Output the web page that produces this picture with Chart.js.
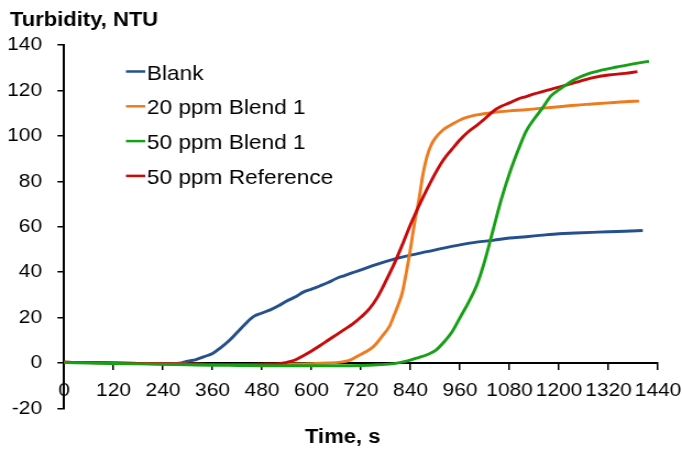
<!DOCTYPE html>
<html>
<head>
<meta charset="utf-8">
<script src="https://cdn.jsdelivr.net/npm/chart.js@4.4.0/dist/chart.umd.min.js"></script>
<style>
  html, body { margin: 0; padding: 0; background: #fff; }
  #c { display: block; width: 682px; height: 450px; }
</style>
</head>
<body>
<canvas id="c" width="620" height="450" style="width:682px;height:450px"></canvas>
<script>
// Turbidity development over time for each test solution
const blankTime = [0,60,120,180,240,270,285,300,320,340,360,380,400,420,440,460,480,500,520,540,560,580,600,620,640,660,680,700,720,760,800,840,880,920,960,1000,1040,1080,1120,1160,1200,1240,1280,1320,1360,1403];
const blankNtu  = [0.3,0.2,0,-0.2,-0.3,-0.2,0,0.8,1.5,2.8,4.2,6.8,9.8,13.5,17.3,20.5,22,23.4,25.2,27.3,29,31.2,32.5,33.9,35.4,37.2,38.5,39.8,41,43.5,45.7,47.5,49,50.6,52,53.2,54,55,55.6,56.3,56.9,57.2,57.5,57.8,58,58.3];

const blend20Time = [0,60,120,180,240,300,360,420,480,540,600,640,670,690,710,730,750,770,790,800,810,820,830,840,850,860,870,880,890,900,920,940,960,980,1000,1040,1080,1120,1160,1200,1240,1280,1320,1360,1394];
const blend20Ntu  = [0.3,0.2,0,-0.2,-0.4,-0.5,-0.6,-0.6,-0.6,-0.5,-0.3,0,0.4,1,2.8,4.8,7.2,11.5,16.5,21,25.5,31,40,50.5,62,71.5,83,91,96,99,102.8,105,107,108.3,109.2,110.3,111,111.5,112.2,112.8,113.5,114,114.5,115,115.3];

const blend50Time = [0,60,120,180,240,300,360,420,480,540,600,660,720,760,800,830,860,880,900,920,940,960,980,1000,1020,1040,1060,1080,1100,1120,1140,1160,1180,1200,1220,1240,1270,1300,1340,1380,1418];
const blend50Ntu  = [0.2,0,-0.2,-0.4,-0.6,-0.8,-1,-1.1,-1.2,-1.2,-1.2,-1.2,-1.1,-0.8,-0.3,0.8,2.4,3.6,5.4,9,13.5,20,26.5,34,45,58.5,72,83.5,93.3,102,107.5,112.3,117.5,120.3,122.8,125,127.3,128.8,130.3,131.7,132.8];

const refTime = [0,60,120,180,240,300,360,420,480,520,540,560,580,600,620,640,660,680,700,720,740,760,780,800,820,840,860,880,900,920,940,960,980,1000,1020,1040,1060,1080,1100,1120,1140,1160,1180,1200,1240,1280,1320,1360,1390];
const refNtu  = [0.3,0.2,0,-0.2,-0.4,-0.5,-0.6,-0.6,-0.5,-0.3,0.3,1.3,3.2,5.3,7.6,10,12.4,14.8,17.2,20.2,23.8,29,36,43.5,52,61,69,76.5,83.5,89.5,94,98.3,101.8,104.5,107.5,110.8,113,114.5,116.2,117.3,118.5,119.5,120.5,121.5,123.5,125.5,126.8,127.5,128.3];

const seriesNames = ['Blank', '20 ppm Blend 1', '50 ppm Blend 1', '50 ppm Reference'];
const seriesColors = ['#24508C', '#EE7B1E', '#17A017', '#C80A0A'];

const xTicks = [0,120,240,360,480,600,720,840,960,1080,1200,1320,1440];
const yTicks = [-20,0,20,40,60,80,100,120,140];

const yTitle = 'Turbidity, NTU';
const xTitle = 'Time, s';

const FONT = "'Liberation Sans', Arial, Helvetica, sans-serif";

function pairs(ts, vs) { return ts.map((t, i) => ({ x: t, y: vs[i] })); }

const seriesData = [
  pairs(blankTime, blankNtu),
  pairs(blend20Time, blend20Ntu),
  pairs(blend50Time, blend50Ntu),
  pairs(refTime, refNtu)
];

// Titles and the in-plot legend
const annotations = {
  id: 'annotations',
  afterDraw(chart) {
    const ctx = chart.ctx;
    ctx.save();
    ctx.fillStyle = '#000';
    ctx.textBaseline = 'alphabetic';
    ctx.textAlign = 'left';
    ctx.font = `bold 20px ${FONT}`;
    ctx.fillText(yTitle, 9, 26);
    ctx.textAlign = 'center';
    ctx.fillText(xTitle, 311.5, 443);

    ctx.font = `20.6px ${FONT}`;
    ctx.textAlign = 'left';
    chart.data.datasets.forEach((ds, i) => {
      const base = 79.5 + i * 34.8;
      ctx.strokeStyle = ds.borderColor;
      ctx.lineWidth = 2.5;
      ctx.beginPath();
      ctx.moveTo(114.5, base - 8);
      ctx.lineTo(132, base - 8);
      ctx.stroke();
      ctx.fillText(ds.label, 133.5, base);
    });
    ctx.restore();
  }
};

new Chart(document.getElementById('c'), {
  type: 'line',
  data: {
    datasets: seriesNames.map((name, i) => ({
      label: name,
      data: seriesData[i],
      borderColor: seriesColors[i],
      backgroundColor: seriesColors[i],
      borderWidth: 2.9,
      pointRadius: 0,
      fill: false,
      cubicInterpolationMode: 'monotone',
      order: [3, 2, 0, 1][i]
    }))
  },
  options: {
    responsive: false,
    animation: false,
    devicePixelRatio: 1,
    layout: { padding: { top: 45, bottom: 41.6, left: 0, right: 21.8 } },
    plugins: {
      legend: { display: false },
      tooltip: { enabled: false },
      title: { display: false }
    },
    scales: {
      x: {
        type: 'linear',
        min: 0,
        max: 1440,
        position: { y: 0 },
        afterBuildTicks: s => { s.ticks = xTicks.map(v => ({ value: v })); },
        afterFit: s => { s.paddingLeft = 0; s.paddingRight = 0; },
        ticks: {
          color: '#000',
          font: { family: FONT, size: 19 },
          padding: 10,
          maxRotation: 0,
          autoSkip: false,
          callback: v => String(v)
        },
        grid: { drawOnChartArea: false, drawTicks: true, tickLength: 6, color: '#000', lineWidth: 1.5 },
        border: { display: true, color: '#000', width: 2 }
      },
      y: {
        type: 'linear',
        min: -20,
        max: 140,
        position: 'left',
        afterBuildTicks: s => { s.ticks = yTicks.map(v => ({ value: v })); },
        afterFit: s => { s.width = 58.2; },
        ticks: {
          color: '#000',
          font: { family: FONT, size: 19 },
          padding: 14,
          callback: v => String(v)
        },
        grid: { drawOnChartArea: false, drawTicks: true, tickLength: 6, color: '#000', lineWidth: 1.5 },
        border: { display: true, color: '#000', width: 2 }
      }
    }
  },
  plugins: [annotations]
});
</script>
</body>
</html>
